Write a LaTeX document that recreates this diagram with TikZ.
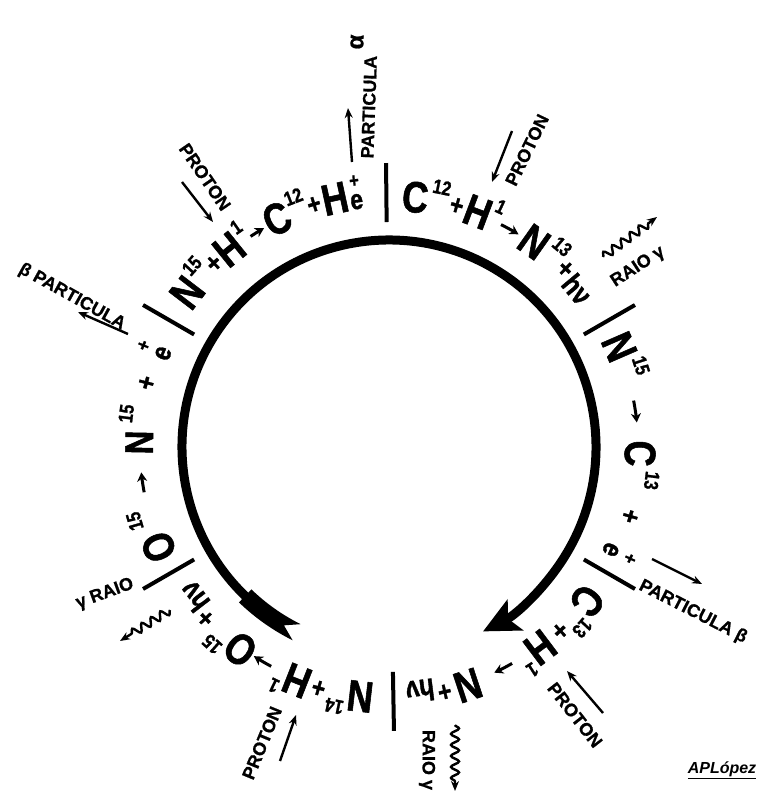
\documentclass[tikz,border=0pt]{standalone}
\usepackage{fontspec}
\setmainfont{Liberation Sans}
\newfontfamily\rfont{Liberation Sans}[FakeStretch=0.82,FakeBold=1.2]
\newfontfamily\lfont{Liberation Sans}[FakeBold=0.8]
\usetikzlibrary{arrows.meta,decorations.pathmorphing}
\newcounter{tkn}
\newcommand\fbig{\rfont\bfseries\fontsize{44}{44}\selectfont}
\newcommand\fmid{\rfont\bfseries\fontsize{40}{40}\selectfont}
\newcommand\fsup{\rfont\bfseries\fontsize{20}{20}\selectfont}
\newcommand\fop{\rfont\bfseries\fontsize{28}{28}\selectfont}
\newcommand\fsop{\rfont\bfseries\fontsize{20}{20}\selectfont}
\newcommand\fhv{\rfont\bfseries\fontsize{30}{30}\selectfont}
\newcommand\fe{\rfont\bfseries\fontsize{28}{28}\selectfont}
\newcommand\flab{\lfont\bfseries\fontsize{18}{18}\selectfont}
\def\curang{0}\def\advR{248}\def\dR{0}
% token laid along the circle clockwise: font, text, radius, gap, anchor, width
\newcommand\tok[6]{%
  \pgfmathsetmacro\tkc{\curang-(#4+0.5*#6)/\advR*57.2958}%
  \pgfmathsetmacro\curang{\curang-(#4+#6)/\advR*57.2958}%
  \pgfmathsetmacro\rotang{\tkc-90}%
  \pgfmathsetmacro\tkr{#3+\dR}%
  \stepcounter{tkn}%
  \node[anchor=#5,inner sep=0pt,rotate=\rotang,font=#1] (tk\arabic{tkn}) at (\tkc:\tkr) {#2};}
\newcommand\Bg[3]{\tok{\fbig}{#2}{236}{#1}{base}{#3}}
\newcommand\Md[3]{\tok{\fmid}{#2}{236}{#1}{base}{#3}}
\newcommand\Sp[3]{\tok{\fsup}{#2}{258}{#1}{base}{#3}}
\newcommand\Op[1]{\tok{\fop}{+}{250}{#1}{center}{13.4}}
\newcommand\Hv[1]{\tok{\fhv}{hν}{235}{#1}{base}{28.7}}
\newcommand\Ee[1]{\tok{\fe}{e}{237}{#1}{base}{12.8}}
\newcommand\Ov{\pgfmathsetmacro\tkr{265+\dR}\stepcounter{tkn}%
  \node[anchor=center,inner sep=0pt,rotate=\rotang,font=\fsop] (tk\arabic{tkn}) at (\tkc:\tkr) {+};}
\newcommand\Ar[2]{%
  \pgfmathsetmacro\arA{\curang-#1/\advR*57.2958}%
  \pgfmathsetmacro\arB{\arA-#2/\advR*57.2958}%
  \pgfmathsetmacro\tkr{249+\dR}%
  \draw[rarrow] (\arA:\tkr) arc[start angle=\arA,end angle=\arB,radius=\tkr];
  \let\curang\arB}
\tikzset{
  sep/.style={line width=4pt},
  rarrow/.style={line width=3pt,-{Stealth[length=9pt,width=10pt]}},
  thinarrow/.style={line width=2.4pt,-{Stealth[length=10pt,width=8pt]}},
  wavy/.style={line width=2.4pt,-{Stealth[length=10pt,width=8pt]},decorate,
    decoration={snake,amplitude=4pt,segment length=11pt,post length=8pt}},
  lab/.style={font=\flab,inner sep=0pt}
}
\begin{document}
\begin{tikzpicture}[x=1pt,y=1pt]
\useasboundingbox (0,0) rectangle (765,797);
\fill[white] (0,0) rectangle (765,797);
\begin{scope}[shift={(389,350)}]
  % main cycle arrow
  \draw[line width=9pt,-{Stealth[length=36pt,width=34pt,inset=8pt]}]
     (238:207) arc[start angle=238,end angle=-63,radius=207];
  % tail block
  \fill (226:216) arc[start angle=226,end angle=243.5,radius=216]
     -- (239.5:207) -- (243.5:198) arc[start angle=243.5,end angle=226,radius=198] -- cycle;
  % separators
  \foreach \a in {90.6,30,-30,-89,-150,150} \draw[sep] (\a:225) -- (\a:284);

  % sector A: C12 + H1 -> N13 + hv
  \def\curang{87}\def\dR{0}\def\advR{248}
  \Bg{0}{C}{26}\Sp{2}{12}{18.2}\Op{2}\Bg{2}{H}{26}\Sp{1}{1}{9.1}\Ar{3}{20}%
  \Bg{4}{N}{26}\Sp{2}{13}{18.2}\Op{1}\Hv{2}

  % sector B: N15 -> C13 + e+
  \def\curang{26.5}
  \Bg{0}{N}{26}\Sp{2}{15}{18.2}\Ar{22}{22}\Bg{18}{C}{26}\Sp{3}{13}{18.2}\Op{22}\Ee{25}\Ov

  % sector C: C13 + H1 -> N + hv
  \def\curang{-34.8}
  \Bg{0}{C}{26}\Sp{1}{13}{18.2}\Op{1}\Bg{6}{H}{26}\Sp{1}{1}{9.1}\Ar{9}{20}%
  \Bg{16}{N}{26}\Op{4}\Hv{3}

  % sector D: N14 + H1 -> O15 + hv
  \def\curang{-93.6}
  \Bg{0}{N}{26}\Sp{1}{14}{18.2}\Op{3}\Bg{3}{H}{26}\Sp{1}{1}{9.1}\Ar{6}{20}%
  \Bg{1}{O}{28}\Sp{1}{15}{18.2}\Op{6}\Hv{3}

  % sector E: O15 -> N15 + e+
  \def\curang{206.7}
  \Bg{0}{O}{28}\Sp{8}{15}{18.2}\Ar{16}{20}\Md{18}{N}{23.7}\Sp{6}{15}{18.2}\Op{17}\Ee{20}\Ov

  % sector F: N15 + H1 -> C12 + He
  \def\curang{145.5}\def\dR{3}\def\advR{255}
  \Bg{0}{N}{26}\Sp{1}{15}{18.2}\Op{1}\Bg{1}{H}{26}\Sp{1}{1}{9.1}\Ar{2}{16}%
  \Bg{3}{C}{26}\Sp{1}{12}{18.2}\Op{1}\Bg{2}{H}{26}\Ee{2}\Ov
\end{scope}

% ---- outer labels ----
% sector F: proton in, alpha out
\node[lab,rotate=-55.6] (pF) at (205,620) {PROTON};
\coordinate (pFa) at (182,615); \coordinate (pFb) at (213,575);
\draw[thinarrow] (pFa) -- (pFb);
\node[lab,rotate=88] (aF) at (369,690) {PARTICULA};
\node[lab,rotate=88,font=\lfont\bfseries\fontsize{24}{24}\selectfont] (alF) at (357,755) {α};
\coordinate (aFa) at (352,635); \coordinate (aFb) at (348,689);
\draw[thinarrow] (aFa) -- (aFb);

% sector A: proton in, gamma out
\node[lab,rotate=64] (pA) at (527,647) {PROTON};
\coordinate (pAa) at (512,666); \coordinate (pAb) at (492,615);
\draw[thinarrow] (pAa) -- (pAb);
\node[lab,rotate=33] (gA) at (638,530) {RAIO γ};
\coordinate (gAa) at (603,540); \coordinate (gAb) at (657,580);
\draw[wavy] (gAa) -- (gAb);

% sector B: beta out
\coordinate (bBa) at (652,238); \coordinate (bBb) at (702,213);
\draw[thinarrow] (bBa) -- (bBb);
\node[lab,rotate=-27] (bB) at (693,185) {PARTICULA β};

% sector C: proton in, gamma out
\node[lab,rotate=-52] (pC) at (575,82) {PROTON};
\coordinate (pCa) at (603,84); \coordinate (pCb) at (567,126);
\draw[thinarrow] (pCa) -- (pCb);
\node[lab,rotate=-90] (gC) at (427,37) {RAIO γ};
\coordinate (gCa) at (455,72); \coordinate (gCb) at (455,6);
\draw[wavy] (gCa) -- (gCb);

% sector D: proton in, gamma out
\node[lab,rotate=67.6] (pD) at (262,54) {PROTON};
\coordinate (pDa) at (280,36); \coordinate (pDb) at (296,82);
\draw[thinarrow] (pDa) -- (pDb);
\node[lab,rotate=20] (gD) at (105,203) {γ RAIO};
\coordinate (gDa) at (170,187); \coordinate (gDb) at (120,156);
\draw[wavy] (gDa) -- (gDb);

% sector E: beta out
\node[lab,rotate=-29] (bE) at (72,500) {β PARTICULA};
\coordinate (bEa) at (128,463); \coordinate (bEb) at (78,485);
\draw[thinarrow] (bEa) -- (bEb);

% signature
\node[font=\bfseries\itshape\fontsize{16}{16}\selectfont,inner sep=0pt] (sig) at (722,27) {\underline{APLópez}};
\end{tikzpicture}
\end{document}
